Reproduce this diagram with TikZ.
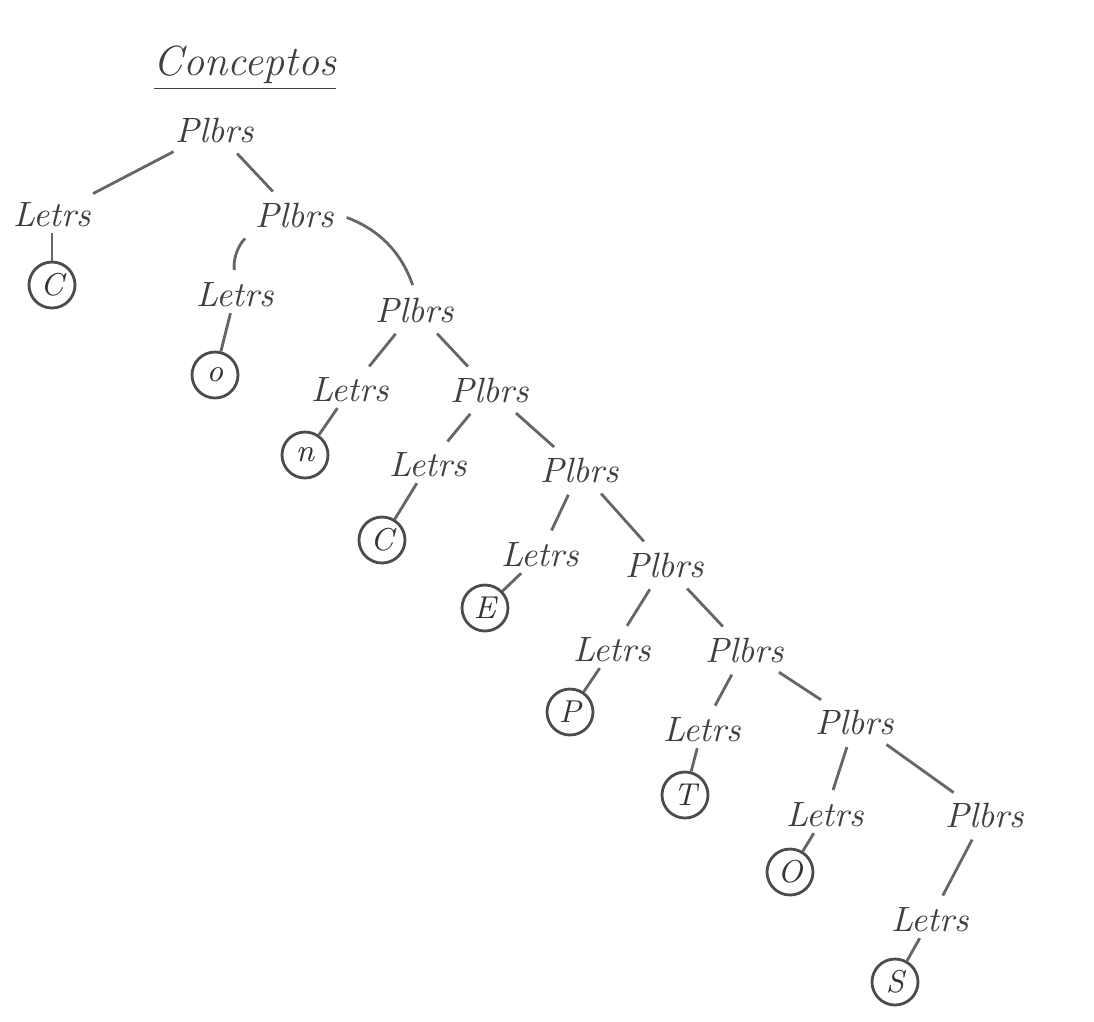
\documentclass[tikz,border=0pt]{standalone}
\usepackage{tikz}
\usetikzlibrary{positioning}

\begin{document}
\begin{tikzpicture}[
  word/.style={font=\normalsize\itshape, text=black!75, inner sep=1.5pt},
  leaf/.style={draw=black!70, circle, thick, minimum size=0.46cm, inner sep=1pt,
               font=\small\itshape, text=black!80},
  edge/.style={draw=black!60, thick, shorten <=2pt, shorten >=2pt},
  leafedge/.style={draw=black!60, thick}
]
\useasboundingbox (0,0) rectangle (10.94,-10.21);

\node[word, font=\large\itshape] (title) at (2.45,-0.68) {\underline{Conceptos}};

\node[word] (p1) at (2.15,-1.30) {Plbrs};
\node[word] (l1) at (0.52,-2.15) {Letrs};
\node[leaf] (c1) at (0.52,-2.85) {C};
\node[word] (p2) at (2.95,-2.15) {Plbrs};
\node[word] (l2) at (2.35,-2.95) {Letrs};
\node[leaf] (c2) at (2.15,-3.75) {o};
\node[word] (p3) at (4.15,-3.10) {Plbrs};
\node[word] (l3) at (3.50,-3.90) {Letrs};
\node[leaf] (c3) at (3.05,-4.55) {n};
\node[word] (p4) at (4.90,-3.90) {Plbrs};
\node[word] (l4) at (4.28,-4.65) {Letrs};
\node[leaf] (c4) at (3.82,-5.40) {C};
\node[word] (p5) at (5.80,-4.70) {Plbrs};
\node[word] (l5) at (5.40,-5.55) {Letrs};
\node[leaf] (c5) at (4.85,-6.08) {E};
\node[word] (p6) at (6.65,-5.65) {Plbrs};
\node[word] (l6) at (6.12,-6.50) {Letrs};
\node[leaf] (c6) at (5.70,-7.12) {P};
\node[word] (p7) at (7.45,-6.50) {Plbrs};
\node[word] (l7) at (7.02,-7.30) {Letrs};
\node[leaf] (c7) at (6.85,-7.95) {T};
\node[word] (p8) at (8.55,-7.22) {Plbrs};
\node[word] (l8) at (8.25,-8.15) {Letrs};
\node[leaf] (c8) at (7.90,-8.72) {O};
\node[word] (p9) at (9.85,-8.15) {Plbrs};
\node[word] (l9) at (9.30,-9.20) {Letrs};
\node[leaf] (c9) at (8.95,-9.82) {S};

% ramas
\draw[edge] (p1) -- (l1);
\draw[edge] (p1) -- (p2);
\draw[leafedge] (l1) -- (c1);
\draw[edge] (p2.south west) to[bend right=25] (l2.north);
\draw[edge] (p2.east) to[bend left=25] (p3.north);
\draw[leafedge] (l2) -- (c2);
\draw[edge] (p3) -- (l3);
\draw[edge] (p3) -- (p4);
\draw[leafedge] (l3) -- (c3);
\draw[edge] (p4) -- (l4);
\draw[edge] (p4) -- (p5);
\draw[leafedge] (l4) -- (c4);
\draw[edge] (p5) -- (l5);
\draw[edge] (p5) -- (p6);
\draw[leafedge] (l5) -- (c5);
\draw[edge] (p6) -- (l6);
\draw[edge] (p6) -- (p7);
\draw[leafedge] (l6) -- (c6);
\draw[edge] (p7) -- (l7);
\draw[edge] (p7) -- (p8);
\draw[leafedge] (l7) -- (c7);
\draw[edge] (p8) -- (l8);
\draw[edge] (p8) -- (p9);
\draw[leafedge] (l8) -- (c8);
\draw[edge] (p9) -- (l9);
\draw[leafedge] (l9) -- (c9);
\end{tikzpicture}
\end{document}
